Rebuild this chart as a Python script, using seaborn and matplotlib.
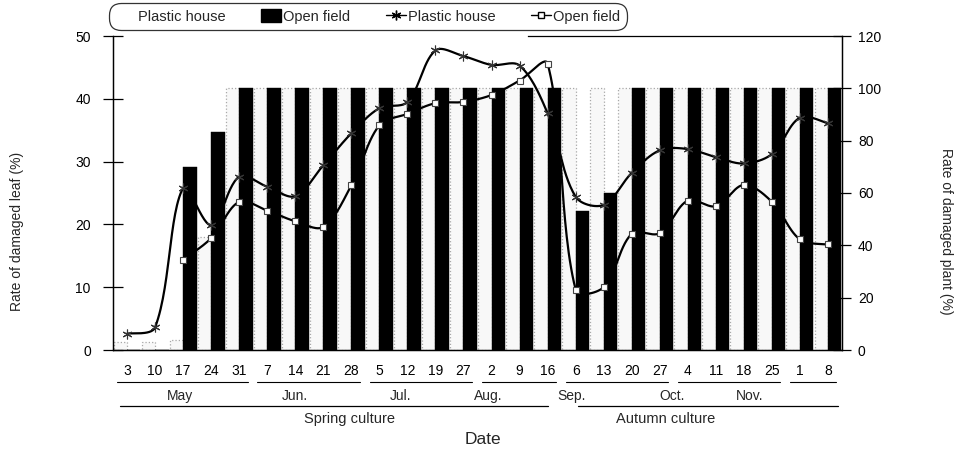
import numpy as np
import pandas as pd
import matplotlib
matplotlib.use("Agg")
import matplotlib.pyplot as plt
import matplotlib.transforms as mtransforms
from matplotlib.patches import Patch
from matplotlib.lines import Line2D
import seaborn as sns

# ---------------- data ----------------
days = ["3", "10", "17", "24", "31", "7", "14", "21", "28", "5", "12", "19", "27",
        "2", "9", "16", "6", "13", "20", "27", "4", "11", "18", "25", "1", "8"]
months = (["May"] * 5 + ["Jun."] * 4 + ["Jul."] * 4 + ["Aug."] * 3 +
          ["Sep."] * 4 + ["Oct."] * 4 + ["Nov."] * 2)
month_names = ["May", "Jun.", "Jul.", "Aug.", "Sep.", "Oct.", "Nov."]
cultures = ["Spring culture", "Autumn culture"]

# damaged plant (%) - bars, right axis
plant_plastic = [3, 3, 4, 43, 100, 100, 100, 100, 100, 100, 100, 100, 100,
                 100, 100, 100, 100, 100, 100, 100, 100, 100, 100, 100, 100, 100]
plant_open = [0, 0, 70, 83.3, 100, 100, 100, 100, 100, 100, 100, 100, 100,
              100, 100, 100, 53.3, 60, 100, 100, 100, 100, 100, 100, 100, 100]

# damaged leaf (%) - lines, left axis
leaf_plastic = [2.6, 3.6, 25.8, 19.9, 27.6, 26.0, 24.5, 29.4, 34.5, 38.5, 39.5, 47.7, 46.8,
                45.4, 45.3, 37.7, 24.4, 23.1, 28.2, 31.8, 32.0, 30.7, 29.7, 31.2, 37.0, 36.1]
leaf_open = [np.nan, np.nan, 14.4, 17.8, 23.6, 22.2, 20.5, 19.6, 26.2, 35.8, 37.6, 39.3, 39.5,
             40.6, 42.9, 45.6, 9.6, 10.0, 18.5, 18.6, 23.8, 22.9, 26.3, 23.6, 17.6, 16.8]

# ---------------- layout helpers ----------------
month_label_x = [1.9, 6.0, 9.75, 12.9, 15.87, 19.45, 22.2]
culture_line_x = [(-0.25, 15.0), (16.08, 25.37)]
culture_text_x = [7.95, 19.2]


def smooth(xv, yv, sx=28.04, sy=6.28, n=30):
    """Excel-like smoothed line (distance-weighted cardinal Bezier) in screen scale."""
    P = np.column_stack([np.asarray(xv, float) * sx, np.asarray(yv, float) * sy])
    m = len(P)
    T = np.zeros_like(P)
    wb = np.full(m, 0.5)
    wa = np.full(m, 0.5)
    for i in range(m):
        if 0 < i < m - 1:
            T[i] = P[i + 1] - P[i - 1]
            d1 = np.hypot(*(P[i] - P[i - 1]))
            d2 = np.hypot(*(P[i + 1] - P[i]))
            wb[i] = d1 / (d1 + d2)
            wa[i] = d2 / (d1 + d2)
        elif i == 0:
            T[i] = P[1] - P[0]
        else:
            T[i] = P[i] - P[i - 1]
    s = 1.0 / 3.0
    t = np.linspace(0, 1, n)[:, None]
    out = []
    for i in range(m - 1):
        b0 = P[i]
        b1 = P[i] + T[i] * s * wa[i]
        b2 = P[i + 1] - T[i + 1] * s * wb[i + 1]
        b3 = P[i + 1]
        seg = ((1 - t) ** 3 * b0 + 3 * (1 - t) ** 2 * t * b1 +
               3 * (1 - t) * t ** 2 * b2 + t ** 3 * b3)
        out.append(seg if i == 0 else seg[1:])
    out = np.vstack(out)
    return out[:, 0] / sx, out[:, 1] / sy


sns.set_style("white")
plt.rcParams["font.family"] = ["Liberation Sans", "DejaVu Sans"]

n = len(days)
keys = [f"{i:02d}" for i in range(n)]
df = pd.DataFrame({
    "key": keys * 2,
    "series": ["Plastic house"] * n + ["Open field"] * n,
    "value": plant_plastic + plant_open,
})

fig = plt.figure(figsize=(9.56, 4.53), dpi=100)
ax = fig.add_axes([113 / 956, 1 - 350 / 453, (842 - 113) / 956, 314 / 453])

sns.barplot(data=df, x="key", y="value", hue="series", order=keys,
            hue_order=["Plastic house", "Open field"],
            palette={"Plastic house": "#f8f8f8", "Open field": "black"},
            width=0.96, gap=0, ax=ax, legend=False, saturation=1, errorbar=None)
for p in ax.containers[0]:
    p.set_edgecolor("#a8a8a8")
    p.set_linestyle(":")
    p.set_linewidth(0.9)
for p in ax.containers[1]:
    p.set_edgecolor("black")
    p.set_linewidth(0.3)

ax.set_xlim(-0.5, n - 0.5)
ax.set_ylim(0, 120)
ax.set_yticks(range(0, 121, 20))
ax.set_xticks(range(n))
ax.set_xticklabels(days, fontsize=10)
ax.tick_params(axis="x", direction="out", length=6.5, width=0.9, pad=3.5, colors="black")
ax.set_xlabel("")
ax.set_ylabel("")

ax2 = ax.twinx()
ax2.set_ylim(0, 50)
ax2.set_yticks(range(0, 51, 10))
ax2.yaxis.tick_left()
ax2.tick_params(axis="y", direction="inout", length=14, width=0.9, pad=9,
                labelsize=10, colors="black")
ax2.set_ylabel("")
ax.yaxis.tick_right()
ax.tick_params(axis="y", direction="inout", length=13, width=0.9, pad=5,
               labelsize=10, colors="black", left=False, labelleft=False,
               right=True, labelright=True)

idx = np.arange(n, dtype=float)
cx, cy = smooth(idx, leaf_plastic)
sns.lineplot(x=cx, y=cy, ax=ax2, color="black", lw=1.6, sort=False, estimator=None)
lo = np.array(leaf_open)
ok = ~np.isnan(lo)
cx2, cy2 = smooth(idx[ok], lo[ok])
sns.lineplot(x=cx2, y=cy2, ax=ax2, color="black", lw=1.6, sort=False, estimator=None)
ax2.plot(idx, leaf_plastic, linestyle="none", marker=(6, 2, 0), markersize=7,
         markeredgecolor="#333333", markeredgewidth=0.8)
ax2.plot(idx[ok], lo[ok], linestyle="none", marker="s", markersize=5,
         markerfacecolor="white", markeredgecolor="#444444", markeredgewidth=0.8)

for a in (ax, ax2):
    for s in a.spines.values():
        s.set_color("black")
        s.set_linewidth(0.9)
ax2.spines["top"].set_bounds(14.3, n - 0.5)
ax.spines["top"].set_visible(False)

# ---------------- x-axis annotations ----------------
tr = mtransforms.blended_transform_factory(ax.transData, ax.transAxes)
groups = []
start = 0
for i in range(1, n + 1):
    if i == n or months[i] != months[start]:
        groups.append((start, i - 1))
        start = i
y_ul = -(382 - 350) / 314
for (a0, a1) in groups:
    ax.plot([a0 - 0.35, a1 + 0.3], [y_ul, y_ul], transform=tr, color="black",
            lw=0.8, clip_on=False)
y_month = -(396 - 350) / 314
for name, xm in zip(month_names, month_label_x):
    ax.text(xm, y_month, name, transform=tr, ha="center", va="center", fontsize=10)
y_cl = -(406 - 350) / 314
for (c0, c1) in culture_line_x:
    ax.plot([c0, c1], [y_cl, y_cl], transform=tr, color="black", lw=0.9, clip_on=False)
y_ct = -(419 - 350) / 314
for name, xc in zip(cultures, culture_text_x):
    ax.text(xc, y_ct, name, transform=tr, ha="center", va="center", fontsize=10.5)
ax.text(12.7, -(440 - 350) / 314, "Date", transform=tr, ha="center", va="center",
        fontsize=12.5)

fig.text(17 / 956, 1 - 231 / 453, "Rate of damaged leaf (%)", rotation=90,
         ha="center", va="center", fontsize=10)
fig.text(946 / 956, 1 - 231 / 453, "Rate of damaged plant (%)", rotation=270,
         ha="center", va="center", fontsize=10)

# ---------------- legend ----------------
handles = [
    Patch(facecolor="white", edgecolor="white"),
    Patch(facecolor="black", edgecolor="black"),
    Line2D([], [], color="black", lw=1, marker=(6, 2, 0), markersize=7),
    Line2D([], [], color="black", lw=1, marker="s", markersize=5,
           markerfacecolor="white"),
]
labels = ["Plastic house", "Open field", "Plastic house", "Open field"]
leg = fig.legend(handles, labels, loc="center left",
                 bbox_to_anchor=(112 / 956, 1 - 16.5 / 453), ncol=4,
                 fontsize=10.5, handlelength=1.4, handleheight=0.9,
                 handletextpad=0.15, columnspacing=2.4, borderpad=0.25,
                 borderaxespad=0, frameon=True, fancybox=True)
leg.get_frame().set_edgecolor("black")
leg.get_frame().set_linewidth(0.9)
leg.get_frame().set_boxstyle("round,pad=0.2,rounding_size=0.8")

fig.savefig("out.png", dpi=100)
